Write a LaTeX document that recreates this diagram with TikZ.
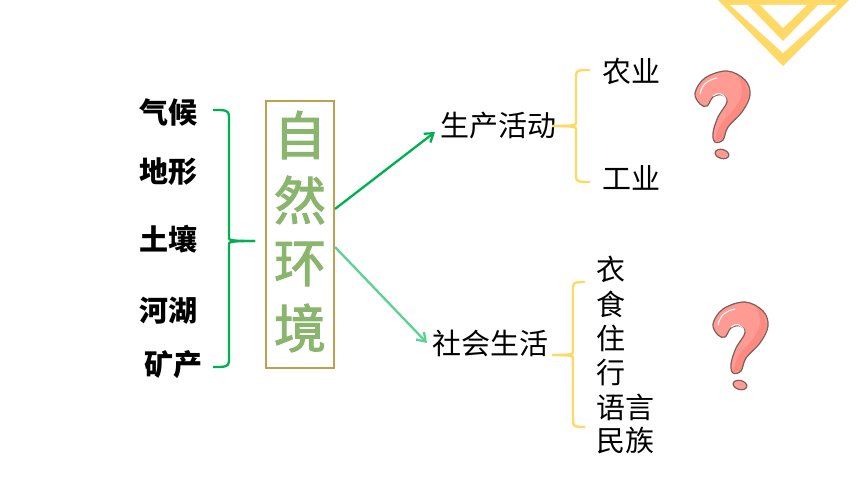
\documentclass[tikz,border=0pt]{standalone}
\usepackage{fontspec}
\setmainfont{Noto Sans CJK SC}
\newfontfamily\bigfont[FakeBold=2]{Noto Sans CJK SC}
\usetikzlibrary{arrows.meta}
\definecolor{bracegreen}{HTML}{00B050}
\definecolor{lightgreen}{HTML}{5CD292}
\definecolor{braceyellow}{HTML}{FFD966}
\definecolor{boxgold}{HTML}{BFA04E}
\definecolor{leafgreen}{HTML}{8AB56C}
\definecolor{mainpink}{HTML}{FF9B93}
\definecolor{darkpink}{HTML}{FB8A80}
\definecolor{edgebrown}{HTML}{7A5F5C}
\tikzset{
	topic/.style={inner sep=0pt, font=\fontsize{29}{30}\selectfont},
	side/.style={inner sep=0pt, font=\fontsize{29}{30}\selectfont\bfseries},
	big/.style={inner sep=0pt, text=leafgreen, font=\fontsize{52}{54}\bigfont},
	greenline/.style={bracegreen, line width=2.3pt},
	yellowline/.style={braceyellow, line width=2.4pt},
	questionmark/.pic={
		\path[fill=mainpink] plot[smooth cycle, tension=0.6] coordinates {
			(15,93) (25,78) (47,71) (65,80) (70,95) (62,112) (48,127) (43,140) (35,142) (33,133) (38,117) (47,102) (42,95) (33,97) (27,106) (20,104)};
		\path[fill=darkpink] plot[smooth, tension=0.7] coordinates {(58,76) (62,92) (55,108) (41,124) (35,141)}
			-- (43,140) -- (48,127) -- (62,112) -- (69,95) -- (65,80) -- cycle;
		\draw[edgebrown, line width=1.2pt] plot[smooth cycle, tension=0.6] coordinates {
			(15,93) (25,78) (47,71) (65,80) (70,95) (62,112) (48,127) (43,140) (35,142) (33,133) (38,117) (47,102) (42,95) (33,97) (27,106) (20,104)};
		\draw[white, line width=1pt, line cap=round] (20,94) .. controls (22,84) and (28,80) .. (37,78);
		\draw[white, line width=1pt, line cap=round] (33,96) .. controls (38,92) and (44,93) .. (46,100);
		\draw[fill=mainpink, draw=edgebrown, line width=1.2pt, rotate around={-15:(42,154)}] (42,154) ellipse (7pt and 4.5pt);
	}
}
\begin{document}
\begin{tikzpicture}[x=1pt, y=-1pt]
	\useasboundingbox (0,0) rectangle (860,484);
	\fill[braceyellow] (718,0) -- (849,0) -- (783,66) -- cycle;
	\fill[white] (730,5) -- (837,5) -- (783,53) -- cycle;
	\fill[braceyellow] (748,5) -- (818,5) -- (783,41) -- cycle;
	\fill[white] (760,5) -- (807,5) -- (783,28) -- cycle;
	\node[side] (qihou) at (168.5,112) {气候};
	\node[side] (dixing) at (168.5,172) {地形};
	\node[side] (turang) at (168.5,239) {土壤};
	\node[side] (hehu) at (168.5,311) {河湖};
	\node[side] (kuangchan) at (173.5,365) {矿产};
	\node[draw=boxgold, line width=2pt, minimum width=68pt, minimum height=267pt, inner sep=0pt] (ziran) at (300,234.5) {};
	\node[big] (zi) at (300,135) {自};
	\node[big] (ran) at (300,200) {然};
	\node[big] (huan) at (300,264) {环};
	\node[big] (jing) at (300,328) {境};
	\node[topic] (shengchan) at (498,126) {生产活动};
	\node[topic] (shehui) at (490.5,343) {社会生活};
	\node[topic] (nongye) at (631,71) {农业};
	\node[topic] (gongye) at (631,178) {工业};
	\node[topic] (yi) at (611,269) {衣};
	\node[topic] (shi) at (611,304) {食};
	\node[topic] (zhu) at (611,338) {住};
	\node[topic] (xing) at (611,373) {行};
	\node[topic] (yuyan) at (625.5,407) {语言};
	\node[topic] (minzu) at (625.5,441) {民族};
	\coordinate (leftmid) at (255,241);
	\coordinate (uptip) at (435,132);
	\coordinate (lowtip) at (427,343);
	\coordinate (upmid) at (552,126);
	\coordinate (lowmid) at (552,355);
	\draw[greenline] (213,110) .. controls (225,110) and (229,110) .. (229,116) -- (229,238) .. controls (229,240) and (230,241) .. (leftmid);
	\draw[greenline] (213,367) .. controls (225,367) and (229,367) .. (229,361) -- (229,244) .. controls (229,242) and (230,241) .. (leftmid);
	\draw[greenline, -{Straight Barb[length=8pt, width=11pt]}] (ziran.east |- 0,209) -- (uptip);
	\draw[greenline, lightgreen, -{Straight Barb[length=8pt, width=11pt]}] (ziran.east |- 0,247) -- (lowtip);
	\draw[yellowline] (590,70) .. controls (580,70) and (576,70) .. (576,75) -- (576,123) .. controls (576,125) and (575,126) .. (upmid);
	\draw[yellowline] (590,182) .. controls (580,182) and (576,182) .. (576,177) -- (576,129) .. controls (576,127) and (575,126) .. (upmid);
	\draw[yellowline] (585,282) .. controls (577,282) and (573,282) .. (573,287) -- (573,352) .. controls (573,354) and (572,355) .. (lowmid);
	\draw[yellowline] (585,427) .. controls (577,427) and (573,427) .. (573,422) -- (573,358) .. controls (573,356) and (572,355) .. (lowmid);
	\pic at (680,0) {questionmark};
	\pic at (698,231) {questionmark};
\end{tikzpicture}
\end{document}
